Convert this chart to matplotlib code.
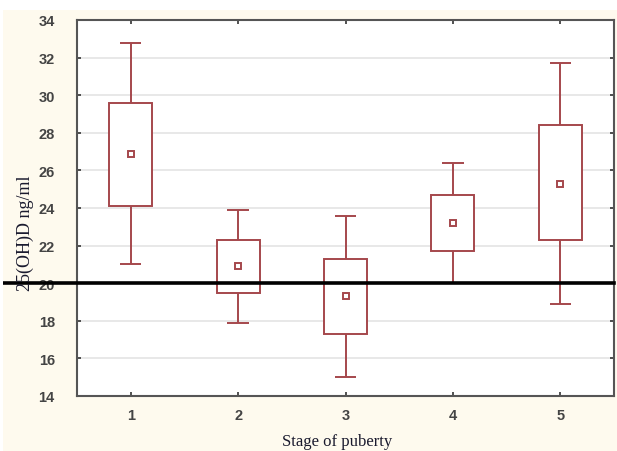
import matplotlib.pyplot as plt
from matplotlib.patches import Rectangle

# --------------------------
# Data
# --------------------------
stages = [1, 2, 3, 4, 5]
whisker_top = [32.8, 23.9, 23.6, 26.4, 31.7]
box_top = [29.6, 22.3, 21.3, 24.7, 28.4]
means = [26.85, 20.9, 19.3, 23.2, 25.3]
box_bottom = [24.1, 19.5, 17.3, 21.7, 22.3]
whisker_bottom = [21.0, 17.9, 15.0, 20.0, 18.9]
threshold = 20
y_ticks = [14, 16, 18, 20, 22, 24, 26, 28, 30, 32, 34]

box_color = '#a5474c'
cream = '#fefaee'

fig = plt.figure(figsize=(6.17, 4.52), dpi=100, facecolor=cream)
# white strip along the top edge of the scanned figure
fig.patches.append(Rectangle((0, 1 - 11 / 452), 1, 11 / 452, transform=fig.transFigure,
                             facecolor='white', edgecolor='none', zorder=0))
fig.patches.append(Rectangle((0, 0), 3 / 617, 1, transform=fig.transFigure,
                             facecolor='white', edgecolor='none', zorder=0))

ax = fig.add_axes([77 / 617, 1 - 397 / 452, (614 - 77) / 617, (397 - 21) / 452])
ax.set_facecolor('white')

# grid
for y in y_ticks[1:-1]:
    ax.axhline(y, color='#e4e4e4', lw=1.2, zorder=0)

# boxes
heights = [t - b for t, b in zip(box_top, box_bottom)]
ax.bar(stages, heights, bottom=box_bottom, width=0.4, facecolor='white',
       edgecolor=box_color, linewidth=1.4, zorder=2)
# whiskers
ax.vlines(stages, box_top, whisker_top, color=box_color, lw=1.4, zorder=2)
ax.vlines(stages, whisker_bottom, box_bottom, color=box_color, lw=1.4, zorder=2)
ax.hlines(whisker_top, [s - 0.1 for s in stages], [s + 0.1 for s in stages],
          color=box_color, lw=1.4, zorder=2)
ax.hlines(whisker_bottom, [s - 0.1 for s in stages], [s + 0.1 for s in stages],
          color=box_color, lw=1.4, zorder=2)
# means
ax.plot(stages, means, linestyle='none', marker='s', markersize=5,
        markerfacecolor='white', markeredgecolor=box_color, markeredgewidth=1.4, zorder=3)

# reference line, runs past the left axis
ax.axhline(threshold, xmin=-0.14, xmax=1.0, color='black', lw=2.6, clip_on=False, zorder=4)

ax.set_xlim(0.5, 5.5)
ax.set_ylim(14, 34)
ax.set_xticks(stages)
ax.set_yticks(y_ticks)

for side in ['left', 'right', 'top', 'bottom']:
    ax.spines[side].set_color('#555555')
    ax.spines[side].set_linewidth(1.5)

ax.tick_params(axis='x', direction='in', length=3, width=1.2, color='#333333',
               top=True, pad=9, labelsize=10.5, labelcolor='#444444')
ax.tick_params(axis='y', direction='in', length=3, width=1.2, color='#333333',
               right=True, pad=16, labelsize=10.5, labelcolor='#444444')
for lab in ax.get_xticklabels() + ax.get_yticklabels():
    lab.set_fontfamily('Liberation Sans')
    lab.set_fontweight('bold')

fig.text(25 / 617, 1 - 233 / 452, '25(OH)D ng/ml', rotation=90, ha='center', va='center',
         fontfamily='Liberation Serif', fontsize=13, color='#1a1a2e')
fig.text(337 / 617, 1 - 442 / 452, 'Stage of puberty', ha='center', va='center',
         fontfamily='Liberation Serif', fontsize=12, color='#1a1a2e')

fig.savefig('out.png', dpi=100, facecolor=cream)
